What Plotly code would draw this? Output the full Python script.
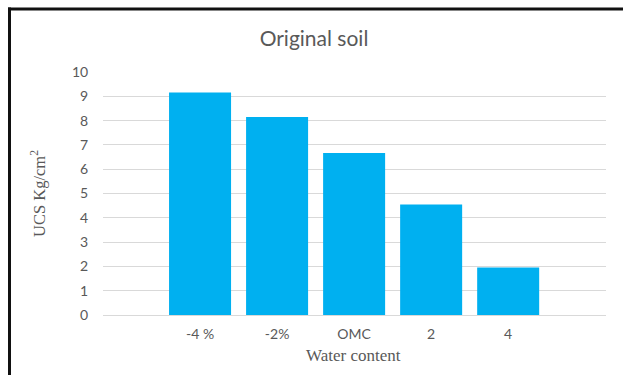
import plotly.graph_objects as go

# UCS of the original soil at different water contents
water_content = ["-4 %", "-2%", "OMC", "2", "4"]
ucs = [9.16, 8.15, 6.67, 4.55, 1.95]
y_ticks = list(range(0, 11))

W, H = 623, 375
L, R, T, B = 103, 17, 72, 60
pw, ph = W - L - R, H - T - B

def px_x(x):
    return (x - L) / pw

def px_y(y):
    return (H - B - y) / ph

grey = "#595959"

fig = go.Figure(
    go.Bar(
        x=water_content,
        y=ucs,
        marker=dict(color="#00B0F0", line=dict(width=0)),
        hoverinfo="x+y",
    )
)

fig.update_layout(
    width=W,
    height=H,
    margin=dict(l=L, r=R, t=T, b=B, pad=0),
    paper_bgcolor="white",
    plot_bgcolor="white",
    bargap=0.195,
    showlegend=False,
    title=dict(
        text="Original soil",
        x=314 / W,
        xanchor="center",
        xref="container",
        y=1 - 39 / H,
        yanchor="middle",
        font=dict(family="Lato, Open Sans, sans-serif", size=21, color=grey),
    ),
    font=dict(family="Lato, Open Sans, sans-serif", size=14, color=grey),
)

fig.update_xaxes(
    type="category",
    categoryorder="array",
    categoryarray=water_content,
    range=[-1.26, 5.27],
    showgrid=False,
    zeroline=False,
    showline=False,
    ticks="outside",
    ticklen=6,
    tickcolor="rgba(0,0,0,0)",
    tickfont=dict(size=14, color=grey),
)

fig.update_yaxes(
    range=[0, 10],
    tickvals=y_ticks,
    showgrid=True,
    gridcolor="#d9d9d9",
    gridwidth=1,
    zeroline=True,
    zerolinecolor="#d9d9d9",
    zerolinewidth=1,
    showline=False,
    ticks="outside",
    ticklen=11,
    tickcolor="rgba(0,0,0,0)",
    tickfont=dict(size=14, color=grey),
)

# Axis titles in a serif face
fig.add_annotation(
    text="Water content",
    xref="paper", yref="paper",
    x=px_x(353), y=px_y(355),
    xanchor="center", yanchor="middle",
    showarrow=False,
    font=dict(family="Liberation Serif, Times New Roman, serif", size=17, color=grey),
)
fig.add_annotation(
    text="UCS Kg/cm<sup>2</sup>",
    xref="paper", yref="paper",
    x=px_x(38), y=px_y(194),
    xanchor="center", yanchor="middle",
    textangle=-90,
    showarrow=False,
    font=dict(family="Liberation Serif, Times New Roman, serif", size=16.5, color=grey),
)

# Dark frame along the top and left edges
fig.add_shape(type="line", xref="paper", yref="paper",
              x0=px_x(8), x1=px_x(623), y0=px_y(9), y1=px_y(9),
              line=dict(color="#111111", width=3))
fig.add_shape(type="line", xref="paper", yref="paper",
              x0=px_x(9.5), x1=px_x(9.5), y0=px_y(7.5), y1=px_y(376),
              line=dict(color="#111111", width=3))

fig.write_html("out.html")
